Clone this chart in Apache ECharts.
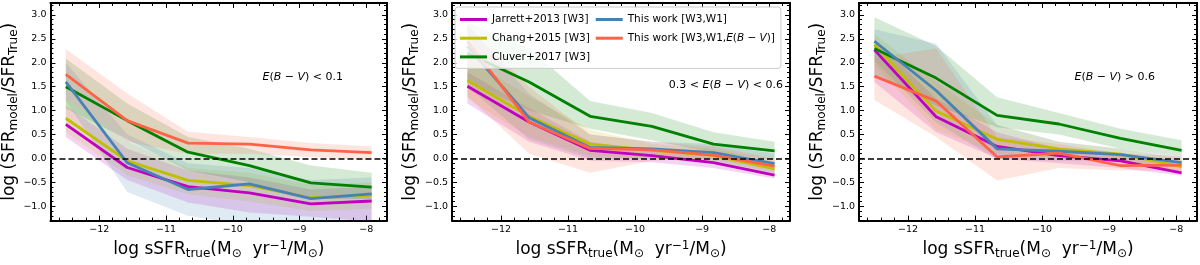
<!DOCTYPE html>
<html><head><meta charset="utf-8">
<script src="https://cdn.jsdelivr.net/npm/echarts@6/dist/echarts.min.js"></script>
<style>html,body{margin:0;padding:0;background:#fff}#c{width:1200px;height:265px}</style>
</head><body><div id="c"></div>
<script>
// ---------------- data ----------------
const sfrBins = [-12.5, -11.58, -10.67, -9.75, -8.83, -7.92];
const xTickValues = [-12, -11, -10, -9, -8];
const yTickValues = [-1, -0.5, 0, 0.5, 1, 1.5, 2, 2.5, 3];
const seriesNames = ['Jarrett+2013 [W3]', 'Chang+2015 [W3]', 'Cluver+2017 [W3]', 'This work [W3,W1]', 'This work [W3,W1,E(B−V)]'];
const seriesColors = ['#bf00bf', '#bfbf00', '#008000', '#4682b4', '#ff6347'];
const panelLabels = ['E(B−V) < 0.1', '0.3 < E(B−V) < 0.6', 'E(B−V) > 0.6'];

// Panel 1: E(B-V) < 0.1
const p1Jarrett   = [0.71, -0.19, -0.59, -0.72, -0.95, -0.89];
const p1JarrettLo = [0.45, -0.45, -0.92, -1.13, -1.22, -1.32];
const p1JarrettHi = [1.10, 0.20, -0.25, -0.40, -0.65, -0.60];
const p1Chang     = [0.84, -0.05, -0.46, -0.57, -0.82, -0.77];
const p1ChangLo   = [0.55, -0.35, -0.75, -0.90, -1.10, -1.05];
const p1ChangHi   = [1.25, 0.35, -0.20, -0.30, -0.55, -0.50];
const p1Cluver    = [1.50, 0.79, 0.13, -0.15, -0.51, -0.60];
const p1CluverLo  = [1.05, 0.40, -0.25, -0.50, -0.85, -0.85];
const p1CluverHi  = [2.09, 1.15, 0.45, 0.20, -0.15, -0.30];
const p1Work      = [1.60, -0.09, -0.65, -0.53, -0.84, -0.74];
const p1WorkLo    = [1.20, -0.70, -1.20, -1.40, -1.50, -1.50];
const p1WorkHi    = [2.00, 0.50, -0.10, -0.20, -0.45, -0.40];
const p1WorkE     = [1.76, 0.79, 0.32, 0.30, 0.18, 0.12];
const p1WorkELo   = [1.25, 0.35, 0.10, 0.10, 0.03, -0.04];
const p1WorkEHi   = [2.29, 1.36, 0.56, 0.45, 0.32, 0.25];

// Panel 2: 0.3 < E(B-V) < 0.6
const p2Jarrett   = [1.51, 0.76, 0.17, 0.06, -0.09, -0.35];
const p2JarrettLo = [1.15, 0.35, -0.05, -0.08, -0.20, -0.42];
const p2JarrettHi = [1.80, 1.05, 0.35, 0.15, 0.03, -0.25];
const p2Chang     = [1.63, 0.88, 0.30, 0.17, 0.06, -0.22];
const p2ChangLo   = [1.25, 0.45, 0.05, 0.00, -0.10, -0.35];
const p2ChangHi   = [2.10, 1.30, 0.60, 0.30, 0.20, -0.05];
const p2Cluver    = [2.20, 1.60, 0.88, 0.67, 0.30, 0.16];
const p2CluverLo  = [1.60, 1.00, 0.62, 0.38, 0.12, -0.02];
const p2CluverHi  = [2.85, 2.30, 1.20, 0.95, 0.55, 0.35];
const p2Work      = [2.35, 0.85, 0.23, 0.20, 0.12, -0.11];
const p2WorkLo    = [1.50, 0.40, 0.00, 0.00, -0.05, -0.30];
const p2WorkHi    = [2.80, 1.35, 0.50, 0.35, 0.30, 0.10];
const p2WorkE     = [2.45, 0.76, 0.21, 0.18, 0.07, -0.16];
const p2WorkELo   = [1.30, 0.10, -0.30, -0.05, 0.00, -0.25];
const p2WorkEHi   = [2.80, 1.50, 0.50, 0.35, 0.25, 0.00];

// Panel 3: E(B-V) > 0.6
const p3Jarrett   = [2.27, 0.87, 0.25, 0.06, -0.05, -0.30];
const p3JarrettLo = [1.60, 0.55, 0.00, -0.10, -0.20, -0.36];
const p3JarrettHi = [2.50, 1.25, 0.55, 0.20, 0.10, -0.15];
const p3Chang     = [2.38, 0.99, 0.40, 0.20, 0.09, -0.17];
const p3ChangLo   = [1.95, 0.60, 0.10, 0.00, -0.05, -0.30];
const p3ChangHi   = [2.60, 1.60, 0.70, 0.35, 0.20, 0.00];
const p3Cluver    = [2.30, 1.68, 0.90, 0.72, 0.42, 0.17];
const p3CluverLo  = [1.75, 1.10, 0.65, 0.50, 0.20, 0.05];
const p3CluverHi  = [2.95, 2.35, 1.28, 0.95, 0.62, 0.38];
const p3Work      = [2.45, 1.42, 0.20, 0.15, 0.08, -0.09];
const p3WorkLo    = [2.05, 0.75, -0.02, -0.05, -0.05, -0.20];
const p3WorkHi    = [2.70, 2.40, 0.70, 0.35, 0.20, 0.05];
const p3WorkE     = [1.72, 1.20, 0.03, 0.11, -0.15, -0.14];
const p3WorkELo   = [1.22, 0.45, -0.46, -0.20, -0.25, -0.25];
const p3WorkEHi   = [2.10, 2.30, 0.45, 0.30, 0.10, 0.05];

// ---------------- layout ----------------
const panels = [
  [[p1Jarrett, p1JarrettLo, p1JarrettHi], [p1Chang, p1ChangLo, p1ChangHi], [p1Cluver, p1CluverLo, p1CluverHi], [p1Work, p1WorkLo, p1WorkHi], [p1WorkE, p1WorkELo, p1WorkEHi]],
  [[p2Jarrett, p2JarrettLo, p2JarrettHi], [p2Chang, p2ChangLo, p2ChangHi], [p2Cluver, p2CluverLo, p2CluverHi], [p2Work, p2WorkLo, p2WorkHi], [p2WorkE, p2WorkELo, p2WorkEHi]],
  [[p3Jarrett, p3JarrettLo, p3JarrettHi], [p3Chang, p3ChangLo, p3ChangHi], [p3Cluver, p3CluverLo, p3CluverHi], [p3Work, p3WorkLo, p3WorkHi], [p3WorkE, p3WorkELo, p3WorkEHi]]
];
const gridBoxes = [{left: 47, width: 340}, {left: 452, width: 338}, {left: 859, width: 338}];
const labelPos = [{x: 343, y: 77}, {x: 783, y: 85}, {x: 1155, y: 77}];
const X_MIN = -12.73, X_MAX = -7.69, Y_MIN = -1.3, Y_MAX = 3.25;
const FONT = 'DejaVu Sans';

const xMinor = [], yMinor = [];
for (let i = -63; i <= -39; i++) { const v = Math.round(i * 2) / 10; if (Math.abs(v - Math.round(v)) > 1e-6) xMinor.push(v); }
for (let i = -12; i <= 32; i++) { const v = i / 10; if (Math.abs(v * 2 - Math.round(v * 2)) > 1e-6) yMinor.push(v); }

const fmt1 = v => (v < 0 ? '\u2212' : '') + Math.abs(v).toFixed(1);
const fmt0 = v => (v < 0 ? '\u2212' : '') + Math.abs(v).toFixed(0);
const ebv = s => s.replace('E(B−V)', '{i|E}({i|B} − {i|V})');

const nameRich = {
  sub: {fontSize: 12, fontFamily: FONT, padding: [8, 0, 0, 0], color: '#000'},
  sup: {fontSize: 12, fontFamily: FONT, padding: [0, 0, 9, 0], color: '#000'}
};
const nameStyle = {fontSize: 17, fontFamily: FONT, color: '#000', rich: nameRich};
const blackLine = {color: '#000', width: 2};
const tickLine = {color: '#000', width: 1};

const grids = [], xAxes = [], yAxes = [], series = [];
gridBoxes.forEach((gb, g) => {
  grids.push({left: gb.left, width: gb.width, top: 3, height: 225, containLabel: false});
  const xb = {gridIndex: g, type: 'value', min: X_MIN, max: X_MAX, splitLine: {show: false}, axisLabel: {show: false}, axisTick: {show: false}, axisLine: {show: false, onZero: false}};
  xAxes.push(
    Object.assign({}, xb, {position: 'bottom',
      axisLine: {show: true, onZero: false, lineStyle: blackLine},
      axisTick: {show: true, inside: true, length: 5, customValues: xTickValues, lineStyle: tickLine},
      axisLabel: {show: true, customValues: xTickValues, formatter: fmt0, margin: 4, fontSize: 9.5, fontFamily: FONT, color: '#000'},
      name: 'log sSFR{sub|true}(M{sub|\u2299}  yr{sup|\u22121}/M{sub|\u2299})', nameLocation: 'middle', nameGap: 15, nameTextStyle: nameStyle}),
    Object.assign({}, xb, {position: 'bottom', axisTick: {show: true, inside: true, length: 3, customValues: xMinor, lineStyle: tickLine}}),
    Object.assign({}, xb, {position: 'top', axisLine: {show: true, onZero: false, lineStyle: blackLine},
      axisTick: {show: true, inside: true, length: 5, customValues: xTickValues, lineStyle: tickLine}}),
    Object.assign({}, xb, {position: 'top', axisTick: {show: true, inside: true, length: 3, customValues: xMinor, lineStyle: tickLine}})
  );
  const yb = {gridIndex: g, type: 'value', min: Y_MIN, max: Y_MAX, splitLine: {show: false}, axisLabel: {show: false}, axisTick: {show: false}, axisLine: {show: false, onZero: false}};
  yAxes.push(
    Object.assign({}, yb, {position: 'left',
      axisLine: {show: true, onZero: false, lineStyle: blackLine},
      axisTick: {show: true, inside: true, length: 5, customValues: yTickValues, lineStyle: tickLine},
      axisLabel: {show: true, customValues: yTickValues, formatter: fmt1, margin: 4, fontSize: 9.5, fontFamily: FONT, color: '#000'},
      name: 'log (SFR{sub|model}/SFR{sub|True})', nameLocation: 'middle', nameRotate: 90, nameGap: 27, nameTextStyle: nameStyle}),
    Object.assign({}, yb, {position: 'left', axisTick: {show: true, inside: true, length: 3, customValues: yMinor, lineStyle: tickLine}}),
    Object.assign({}, yb, {position: 'right', axisLine: {show: true, onZero: false, lineStyle: blackLine},
      axisTick: {show: true, inside: true, length: 5, customValues: yTickValues, lineStyle: tickLine}}),
    Object.assign({}, yb, {position: 'right', axisTick: {show: true, inside: true, length: 3, customValues: yMinor, lineStyle: tickLine}})
  );

  // shaded bands
  panels[g].forEach((s, k) => {
    const lo = s[1], hi = s[2];
    series.push({
      type: 'custom', name: 'band' + g + k, xAxisIndex: 4 * g, yAxisIndex: 4 * g, silent: true, z: 1,
      data: sfrBins.map((x, i) => [x, lo[i], hi[i]]),
      encode: {x: 0, y: [1, 2]},
      renderItem: function (params, api) {
        if (params.dataIndex !== 0) return {type: 'group', children: []};
        const pts = [];
        for (let i = 0; i < sfrBins.length; i++) pts.push(api.coord([sfrBins[i], hi[i]]));
        for (let i = sfrBins.length - 1; i >= 0; i--) pts.push(api.coord([sfrBins[i], lo[i]]));
        const cs = params.coordSys;
        return {type: 'polygon', shape: {points: pts}, style: {fill: seriesColors[k], opacity: 0.17},
          clipPath: {type: 'rect', shape: {x: cs.x, y: cs.y, width: cs.width, height: cs.height}}};
      }
    });
  });
  // lines
  panels[g].forEach((s, k) => {
    const ser = {
      type: 'line', name: seriesNames[k], xAxisIndex: 4 * g, yAxisIndex: 4 * g, z: 3,
      data: sfrBins.map((x, i) => [x, s[0][i]]),
      symbol: 'none', showSymbol: false, color: seriesColors[k],
      itemStyle: {color: seriesColors[k]},
      lineStyle: {color: seriesColors[k], width: 2.8}
    };
    if (k === 4) {
      ser.markLine = {silent: true, symbol: 'none', label: {show: false}, z: 4,
        lineStyle: {color: '#000', width: 1.6, type: [6, 3]}, data: [{yAxis: 0}]};
    }
    series.push(ser);
  });
});

const italic = {fontStyle: 'italic', fontSize: 11, fontFamily: FONT, color: '#000'};
const graphics = panelLabels.map((t, g) => ({
  type: 'text', x: labelPos[g].x, y: labelPos[g].y, z: 10,
  style: {text: ebv(t), fontSize: 11, fontFamily: FONT, fill: '#000', align: 'right', verticalAlign: 'middle',
    rich: {i: italic}}
}));

const chart = echarts.init(document.getElementById('c'), null, {renderer: 'canvas'});
chart.setOption({
  animation: false,
  backgroundColor: '#fff',
  grid: grids, xAxis: xAxes, yAxis: yAxes, series: series, graphic: graphics,
  legend: {
    data: seriesNames, orient: 'vertical', left: 455, top: 7, height: 52,
    padding: [6, 6, 5, 5], itemGap: 5.7, itemWidth: 27, itemHeight: 3, icon: 'rect',
    selectedMode: false, backgroundColor: 'rgba(255,255,255,0.8)', borderColor: '#cccccc', borderWidth: 1, borderRadius: 3,
    z: 20,
    formatter: name => ebv(name),
    textStyle: {fontSize: 10.5, fontFamily: FONT, color: '#000', lineHeight: 13,
      rich: {i: {fontStyle: 'italic', fontSize: 10.5, fontFamily: FONT, color: '#000', lineHeight: 13}}}
  }
});
</script></body></html>
